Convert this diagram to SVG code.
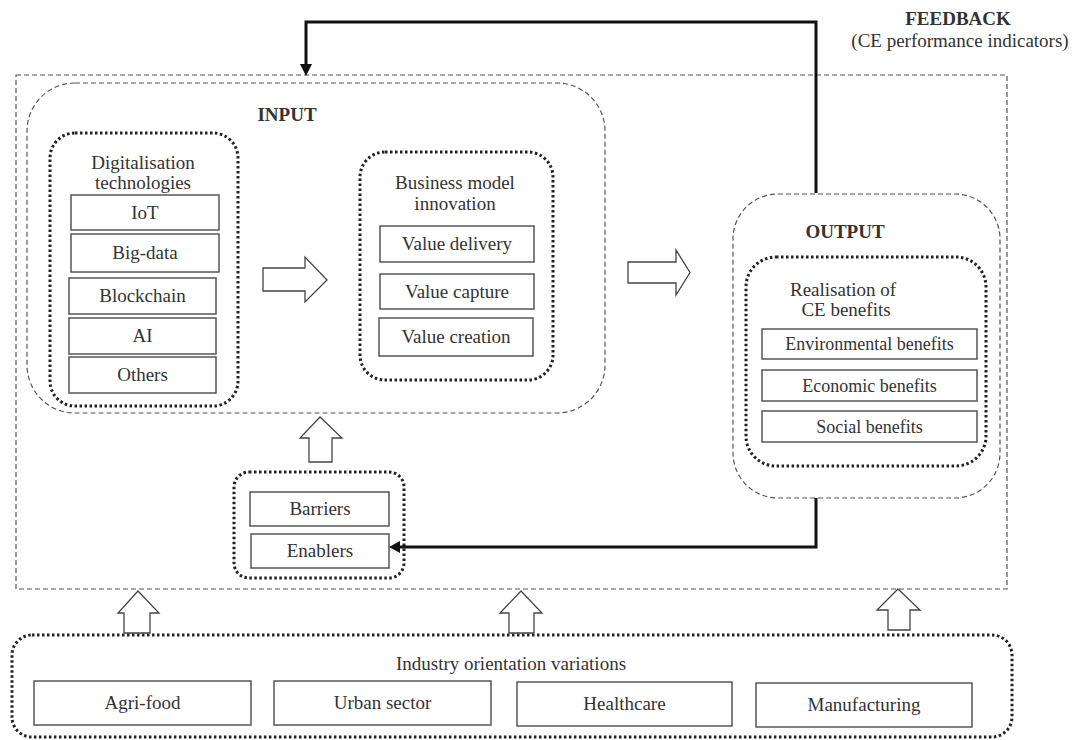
<svg xmlns="http://www.w3.org/2000/svg" width="1072" height="740" viewBox="0 0 1072 740">
<defs>
<style>
text{font-family:"Liberation Serif","Times New Roman",serif;fill:#333;font-size:19px;text-anchor:middle}
.b{font-weight:bold}
.dash{fill:none;stroke:#555;stroke-width:1.2;stroke-dasharray:5 3}
.dot{fill:none;stroke:#222;stroke-width:3;stroke-dasharray:2.5 2.5}
.box{fill:#fff;stroke:#555;stroke-width:1.5}
.blk{fill:#fff;stroke:#444;stroke-width:1.3;stroke-linejoin:miter}
.fb{fill:none;stroke:#111;stroke-width:3}
</style>
</defs>
<rect width="1072" height="740" fill="#fff"/>

<g id="outer"><rect class="dash" x="16" y="75" width="991" height="514"/></g>

<g id="feedback-label">
<text class="b" x="958" y="25">FEEDBACK</text>
<text x="960" y="47">(CE performance indicators)</text>
</g>

<g id="input">
<rect class="dash" x="27" y="83" width="578" height="330" rx="48"/>
<text class="b" x="287" y="121">INPUT</text>
</g>

<g id="digitalisation">
<rect class="dot" x="50" y="133" width="188" height="273" rx="25"/>
<text x="143" y="169">Digitalisation</text>
<text x="143" y="189">technologies</text>
<rect class="box" x="71" y="195" width="148" height="35"/><text x="145" y="219">IoT</text>
<rect class="box" x="71" y="234" width="148" height="38"/><text x="145" y="259">Big-data</text>
<rect class="box" x="69" y="278" width="147" height="36"/><text x="142.5" y="302">Blockchain</text>
<rect class="box" x="69" y="318" width="147" height="36"/><text x="142.5" y="342">AI</text>
<rect class="box" x="69" y="357" width="147" height="36"/><text x="142.5" y="381">Others</text>
</g>

<g id="bmi">
<rect class="dot" x="360" y="152" width="193" height="228" rx="25"/>
<text x="455" y="189">Business model</text>
<text x="455" y="210">innovation</text>
<rect class="box" x="380" y="226" width="154" height="36"/><text x="457" y="250">Value delivery</text>
<rect class="box" x="380" y="274" width="154" height="35"/><text x="457" y="298">Value capture</text>
<rect class="box" x="379" y="318" width="154" height="38"/><text x="456" y="343">Value creation</text>
</g>

<g id="output">
<rect class="dash" x="733" y="194" width="267" height="304" rx="45"/>
<text class="b" x="845" y="238">OUTPUT</text>
</g>

<g id="realisation">
<rect class="dot" x="746" y="257" width="240" height="209" rx="30"/>
<text x="843" y="296">Realisation of</text>
<text x="846" y="316">CE benefits</text>
<rect class="box" x="762" y="329" width="215" height="30"/><text x="869.5" y="350" style="font-size:18px">Environmental benefits</text>
<rect class="box" x="762" y="370" width="215" height="31"/><text x="869.5" y="392" style="font-size:18px">Economic benefits</text>
<rect class="box" x="762" y="411" width="215" height="31"/><text x="869.5" y="433" style="font-size:18px">Social benefits</text>
</g>

<g id="barriers-enablers">
<rect class="dot" x="234" y="472" width="170" height="106" rx="15"/>
<rect class="box" x="250" y="492" width="139" height="34"/><text x="320" y="515">Barriers</text>
<rect class="box" x="251" y="534" width="138" height="34"/><text x="320" y="557">Enablers</text>
</g>

<g id="industry">
<rect class="dot" x="12" y="635" width="1000" height="102" rx="20"/>
<text x="511" y="670">Industry orientation variations</text>
<rect class="box" x="34" y="681" width="217" height="44"/><text x="142.5" y="709">Agri-food</text>
<rect class="box" x="274" y="681" width="217" height="44"/><text x="382.5" y="709">Urban sector</text>
<rect class="box" x="517" y="682" width="215" height="44"/><text x="624.5" y="710">Healthcare</text>
<rect class="box" x="756" y="683" width="216" height="44"/><text x="864" y="711">Manufacturing</text>
</g>

<g id="connectors">
<path class="fb" d="M816,193 V22 H306 V67"/>
<path d="M300,64 L312,64 L306,76 z" fill="#111"/>
<path class="fb" d="M816,498 V547 H398"/>
<path d="M400,541 L400,553 L389,547 z" fill="#111"/>
<polygon class="blk" points="263,268 305,268 305,257 327,280 305,302 305,291 263,291"/>
<polygon class="blk" points="628,262 676,262 676,250 690,272.5 676,295 676,283 628,283"/>
<polygon class="blk" points="320,417 342,438 332,438 332,462 309,462 309,438 300,438"/>
<polygon class="blk" points="138,591 159,613 150,613 150,633 124,633 124,613 118,613"/>
<polygon class="blk" points="521,591 542,613 534,613 534,633 509,633 509,613 500,613"/>
<polygon class="blk" points="898,589 920,610 910,610 910,630 888,630 888,610 877,610"/>
</g>
</svg>
